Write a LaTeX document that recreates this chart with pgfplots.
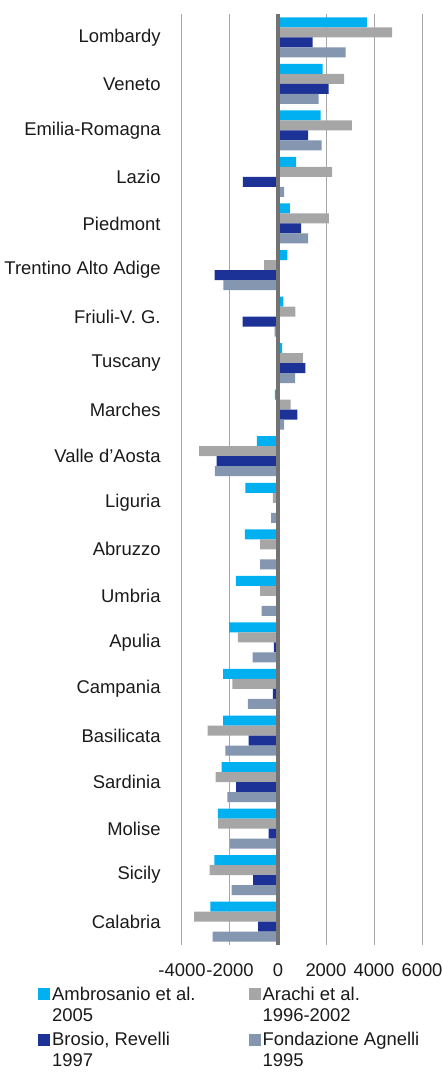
\documentclass[border=0pt]{standalone}
\usepackage{fontspec}
\setmainfont{Liberation Sans}
\usepackage{pgfplots}
\usepackage{pgfplotstable}
\pgfplotsset{compat=1.18}
\definecolor{cA}{HTML}{00B0F0}
\definecolor{cR}{HTML}{A6A6A6}
\definecolor{cB}{HTML}{1C3296}
\definecolor{cF}{HTML}{8496B0}
\definecolor{gridc}{HTML}{A6A6A6}
\definecolor{zeroc}{HTML}{737373}
\definecolor{txt}{HTML}{1A1A1A}
\pgfplotstableread{
idx A R B F
0 3700 4760 1440 2820
1 1860 2750 2110 1690
2 1780 3080 1260 1820
3 750 2250 -1460 250
4 490 2120 960 1260
5 390 -580 -2640 -2280
6 220 720 -1470 -140
7 170 1040 1140 710
8 -130 530 810 260
9 -880 -3290 -2560 -2630
10 -1360 -210 0 -290
11 -1380 -750 0 -750
12 -1760 -750 0 -680
13 -2040 -1670 -170 -1060
14 -2290 -1900 -210 -1260
15 -2290 -2930 -1220 -2190
16 -2350 -2600 -1740 -2110
17 -2500 -2490 -390 -1990
18 -2650 -2850 -1040 -1930
19 -2820 -3490 -830 -2720
}\data
\begin{document}
\begin{tikzpicture}
\useasboundingbox (-182bp,-128bp) rectangle (261bp,945bp);
\begin{axis}[
  scale only axis, width=240bp, height=931bp,
  xbar=0pt, bar width=10bp,
  xmin=-4000, xmax=6000,
  ymin=-0.5, ymax=19.5, y dir=reverse,
  ytick={0,...,19},
  yticklabels={Lombardy,Veneto,Emilia-Romagna,Lazio,Piedmont,Trentino Alto Adige,Friuli-V. G.,Tuscany,Marches,Valle d’Aosta,Liguria,Abruzzo,Umbria,Apulia,Campania,Basilicata,Sardinia,Molise,Sicily,Calabria},
  xtick={-4000,-2000,2000,4000,6000},
  xticklabels={-4000,-2000,2000,4000,6000},
  extra x ticks={0}, extra x tick labels={0},
  extra x tick style={grid=none},
  xmajorgrids, grid style={color=gridc, line width=1bp},
  axis line style={draw=none}, tick style={draw=none},
  tick label style={font=\fontsize{18.5}{21}\selectfont, text=txt},
  xticklabel style={anchor=north, inner sep=0pt, yshift=-18bp},
  yticklabel style={anchor=east, inner sep=0pt, xshift=-17bp},
  legend columns=2,
  legend cell align=left,
  legend image code/.code={\path[#1, draw=none] (0bp,4.5bp) rectangle (12bp,16.5bp);},
  legend style={at={(rel axis cs:-0.6,-0.0425)}, anchor=north west, draw=none, fill=none,
    inner sep=0pt, font=\fontsize{18.5}{21}\selectfont, text=txt,
    cells={align=left}, row sep=6bp,
    /tikz/every even column/.append style={column sep=51bp}},
]
\addplot[fill=cA, draw=none, bar shift=15bp] table[x=A, y=idx] {\data};
\addplot[fill=cR, draw=none, bar shift=5bp] table[x=R, y=idx] {\data};
\addplot[fill=cB, draw=none, bar shift=-5bp] table[x=B, y=idx] {\data};
\addplot[fill=cF, draw=none, bar shift=-15bp] table[x=F, y=idx] {\data};
\draw[color=zeroc, line width=4.7bp] (axis cs:0,-0.5) -- (axis cs:0,19.5);
\legend{{Ambrosanio et al.\\2005}, {Arachi et al.\\1996-2002}, {Brosio, Revelli\\1997}, {Fondazione Agnelli\\1995}}
\end{axis}
\end{tikzpicture}
\end{document}
